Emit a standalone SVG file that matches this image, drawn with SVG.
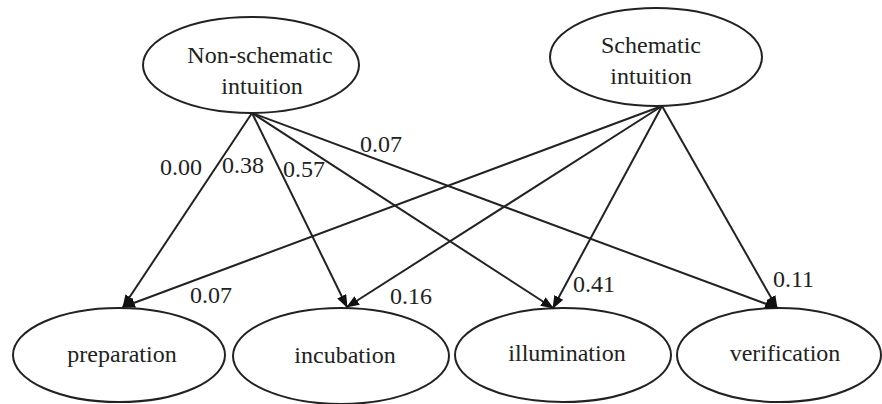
<svg xmlns="http://www.w3.org/2000/svg" width="882" height="404" viewBox="0 0 882 404">
<defs>
<style>
.node ellipse{fill:#fff;stroke:#222;stroke-width:2}
.node text{text-anchor:middle}
.edges line{stroke:#222;stroke-width:2}
</style>
<marker id="ah" viewBox="0 0 13 10" refX="12" refY="5" markerWidth="13" markerHeight="10" markerUnits="userSpaceOnUse" orient="auto">
<path d="M0,0 L13,5 L0,10 z" fill="#111"/>
</marker>
</defs>
<rect width="882" height="404" fill="#fff"/>
<g font-family="Liberation Serif, serif" font-size="24" fill="#222">
<g id="non-schematic" class="node">
<ellipse cx="251" cy="65" rx="108" ry="48"/>
<text x="260" y="63">Non-schematic</text>
<text x="262" y="94">intuition</text>
</g>
<g id="schematic" class="node">
<ellipse cx="656" cy="57" rx="106" ry="49"/>
<text x="651" y="53">Schematic</text>
<text x="651" y="84">intuition</text>
</g>
<g id="preparation" class="node">
<ellipse cx="119" cy="355" rx="106" ry="47"/>
<text x="122" y="362">preparation</text>
</g>
<g id="incubation" class="node">
<ellipse cx="341" cy="356" rx="108" ry="48"/>
<text x="345" y="363">incubation</text>
</g>
<g id="illumination" class="node">
<ellipse cx="563" cy="355" rx="108" ry="47"/>
<text x="567" y="361">illumination</text>
</g>
<g id="verification" class="node">
<ellipse cx="779" cy="355" rx="102" ry="47"/>
<text x="785" y="361">verification</text>
</g>
<g id="connectors" class="edges">
<line x1="252" y1="113" x2="123" y2="307" marker-end="url(#ah)"/>
<line x1="252" y1="113" x2="347" y2="307" marker-end="url(#ah)"/>
<line x1="252" y1="113" x2="553" y2="308" marker-end="url(#ah)"/>
<line x1="252" y1="113" x2="777" y2="308" marker-end="url(#ah)"/>
<line x1="662" y1="106" x2="123" y2="307" marker-end="url(#ah)"/>
<line x1="662" y1="106" x2="347" y2="307" marker-end="url(#ah)"/>
<line x1="662" y1="106" x2="553" y2="308" marker-end="url(#ah)"/>
<line x1="662" y1="106" x2="777" y2="308" marker-end="url(#ah)"/>
</g>
<g id="labels">
<text x="160" y="175">0.00</text>
<text x="222" y="173">0.38</text>
<text x="283" y="177">0.57</text>
<text x="360" y="152">0.07</text>
<text x="190" y="303">0.07</text>
<text x="390" y="304">0.16</text>
<text x="573" y="292">0.41</text>
<text x="773" y="287">0.11</text>
</g>
</g>
</svg>
